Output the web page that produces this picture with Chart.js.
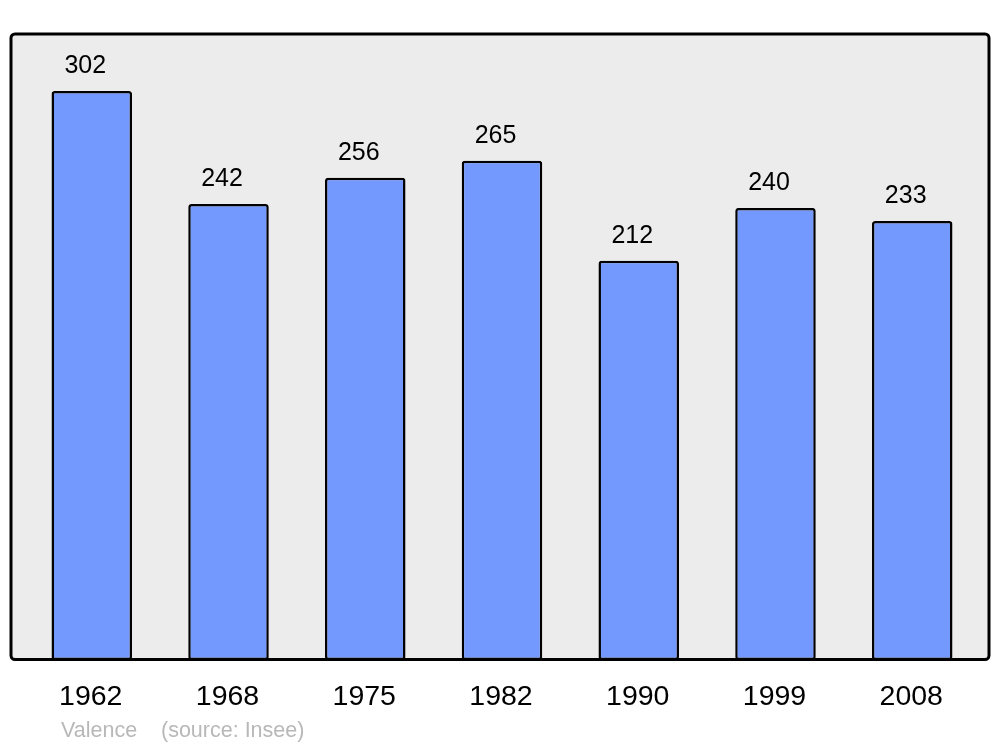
<!DOCTYPE html>
<html>
<head>
<meta charset="utf-8">
<script src="https://cdn.jsdelivr.net/npm/chart.js@4"></script>
<style>
html,body{margin:0;padding:0;background:#fff;}
#wrap{width:1000px;height:747px;position:relative;}
</style>
</head>
<body>
<div id="wrap"><canvas id="c" width="1000" height="747"></canvas></div>
<script>
const years = ["1962","1968","1975","1982","1990","1999","2008"];
const population = [302,242,256,265,212,240,233];
const footerName = "Valence";
const footerSource = "(source: Insee)";

const FONT = '"Liberation Sans", Arial, sans-serif';

const framePlugin = {
  id: 'frame',
  beforeDatasetsDraw(chart) {
    const ctx = chart.ctx;
    ctx.save();
    ctx.beginPath();
    ctx.roundRect(11, 34, 978, 625.5, 4);
    ctx.fillStyle = '#ececec';
    ctx.fill();
    ctx.restore();
  },
  afterDatasetsDraw(chart) {
    const ctx = chart.ctx;
    ctx.save();
    ctx.beginPath();
    ctx.roundRect(11, 34, 978, 625.5, 4);
    ctx.lineWidth = 3;
    ctx.strokeStyle = '#000';
    ctx.stroke();
    // value labels
    const meta = chart.getDatasetMeta(0);
    ctx.fillStyle = '#000';
    ctx.font = '25px ' + FONT;
    ctx.textAlign = 'center';
    ctx.textBaseline = 'alphabetic';
    meta.data.forEach((bar, i) => {
      ctx.fillText(String(population[i]), bar.x - 6.5, bar.y - 18);
    });
    // category labels
    const xs = chart.scales.x;
    ctx.font = '28.5px ' + FONT;
    years.forEach((y, i) => {
      ctx.fillText(y, xs.getPixelForValue(i) - 1, 705);
    });
    // footer
    ctx.fillStyle = '#b8b8b8';
    ctx.font = '21.5px ' + FONT;
    ctx.textAlign = 'left';
    ctx.fillText(footerName, 61, 737);
    ctx.fillText(footerSource, 161, 737);
    ctx.restore();
  }
};

new Chart(document.getElementById('c'), {
  type: 'bar',
  data: {
    labels: years,
    datasets: [{
      data: population,
      backgroundColor: '#7399ff',
      borderColor: '#000',
      borderWidth: 2.5,
      borderRadius: 3,
      borderSkipped: false,
      barPercentage: 0.589,
      categoryPercentage: 1.0
    }]
  },
  options: {
    responsive: false,
    animation: false,
    devicePixelRatio: 1,
    layout: { padding: { left: 23.4, right: 19.4, top: 34, bottom: 87 } },
    plugins: { legend: { display: false }, tooltip: { enabled: false } },
    scales: {
      x: { display: false, offset: true },
      y: { display: false, min: 0, max: 332.3 }
    }
  },
  plugins: [framePlugin]
});
</script>
</body>
</html>
